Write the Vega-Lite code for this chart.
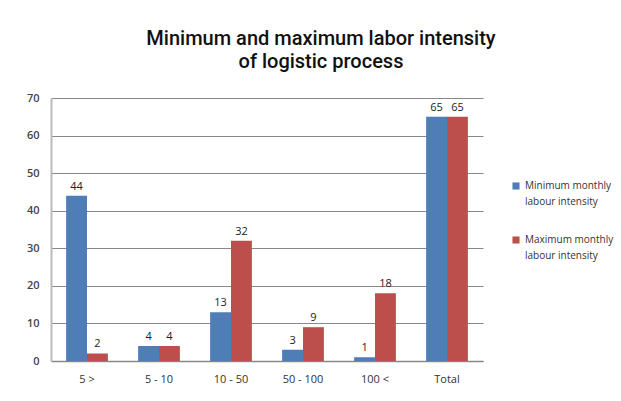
{
  "$schema": "https://vega.github.io/schema/vega-lite/v6.json",
  "width": 432,
  "height": 263,
  "autosize": {"type": "none"},
  "padding": {"left": 51, "top": 98, "right": 138, "bottom": 40},
  "background": "white",
  "title": {
    "text": ["Minimum and maximum labor intensity", "of logistic process"],
    "font": "Roboto",
    "fontSize": 20,
    "fontWeight": 500,
    "color": "#111",
    "anchor": "middle",
    "frame": "group",
    "dx": 54,
    "offset": 20,
    "lineHeight": 23
  },
  "data": {
    "values": [
      {"range": "5 >", "series": "Minimum monthly labour intensity", "value": 44},
      {"range": "5 >", "series": "Maximum monthly labour intensity", "value": 2},
      {"range": "5 - 10", "series": "Minimum monthly labour intensity", "value": 4},
      {"range": "5 - 10", "series": "Maximum monthly labour intensity", "value": 4},
      {"range": "10 - 50", "series": "Minimum monthly labour intensity", "value": 13},
      {"range": "10 - 50", "series": "Maximum monthly labour intensity", "value": 32},
      {"range": "50 - 100", "series": "Minimum monthly labour intensity", "value": 3},
      {"range": "50 - 100", "series": "Maximum monthly labour intensity", "value": 9},
      {"range": "100 <", "series": "Minimum monthly labour intensity", "value": 1},
      {"range": "100 <", "series": "Maximum monthly labour intensity", "value": 18},
      {"range": "Total", "series": "Minimum monthly labour intensity", "value": 65},
      {"range": "Total", "series": "Maximum monthly labour intensity", "value": 65}
    ]
  },
  "encoding": {
    "x": {
      "field": "range",
      "type": "nominal",
      "sort": null,
      "scale": {"paddingInner": 0.42, "paddingOuter": 0.21},
      "axis": {
        "title": null,
        "labelAngle": 0,
        "labelFont": "Open Sans",
        "labelFontSize": 11,
        "labelColor": "#333",
        "labelPadding": 12,
        "ticks": false,
        "domainColor": "#888",
        "domainWidth": 1.5
      }
    },
    "xOffset": {
      "field": "series",
      "type": "nominal",
      "sort": ["Minimum monthly labour intensity", "Maximum monthly labour intensity"]
    },
    "y": {
      "field": "value",
      "type": "quantitative",
      "scale": {"domain": [0, 70]},
      "axis": {
        "title": null,
        "values": [0, 10, 20, 30, 40, 50, 60, 70],
        "labelOverlap": false,
        "labelFont": "Open Sans",
        "labelFontSize": 11,
        "labelFontWeight": 600,
        "labelColor": "#444",
        "labelPadding": 12,
        "ticks": false,
        "gridColor": "#888",
        "gridWidth": 1,
        "domainColor": "#bbb",
        "domainWidth": 2
      }
    }
  },
  "layer": [
    {
      "mark": {"type": "bar"},
      "encoding": {
        "color": {
          "field": "series",
          "type": "nominal",
          "sort": ["Minimum monthly labour intensity", "Maximum monthly labour intensity"],
          "scale": {
            "domain": ["Minimum monthly labour intensity", "Maximum monthly labour intensity"],
            "range": ["#4F7DB8", "#BC4F4C"]
          },
          "legend": {
            "title": null,
            "orient": "none",
            "legendX": 460,
            "legendY": 83,
            "symbolType": "square",
            "symbolSize": 50,
            "symbolStrokeWidth": 0,
            "labelFont": "Open Sans",
            "labelFontSize": 10,
            "labelColor": "#333",
            "labelLimit": 200,
            "rowPadding": 28,
            "labelExpr": "datum.label == 'Minimum monthly labour intensity' ? ['Minimum monthly', 'labour intensity'] : ['Maximum monthly', 'labour intensity']",
            "encode": {
              "labels": {"update": {"lineHeight": {"value": 16}}}
            }
          }
        }
      }
    },
    {
      "mark": {"type": "text", "dy": -9, "font": "Open Sans", "fontSize": 11, "color": "#222"},
      "encoding": {
        "text": {"field": "value", "type": "quantitative"}
      }
    }
  ],
  "config": {
    "view": {"stroke": null}
  }
}
